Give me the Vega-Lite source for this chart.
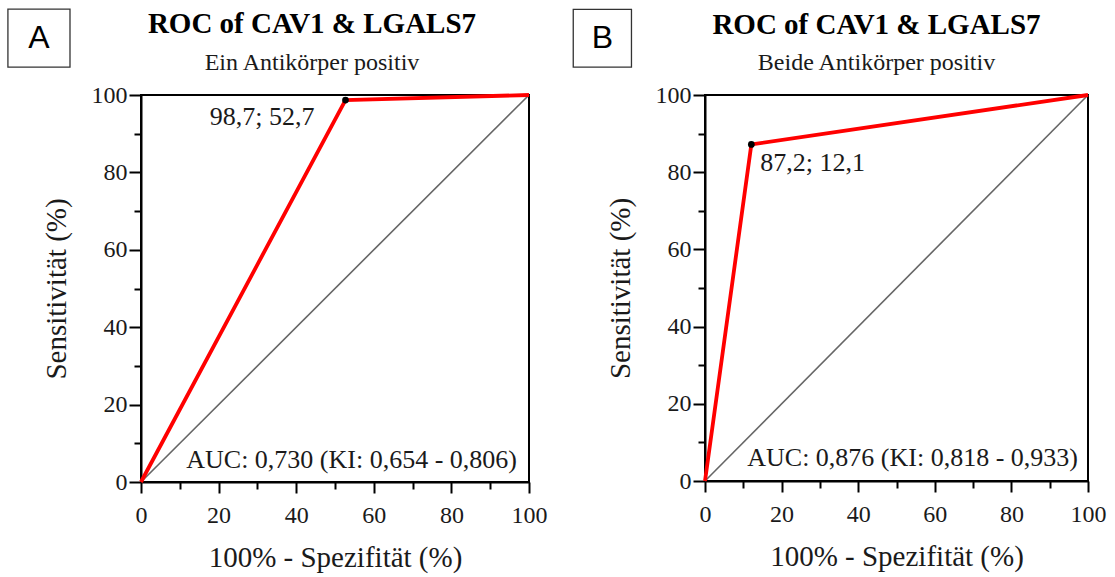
{
  "$schema": "https://vega.github.io/schema/vega-lite/v6.json",
  "background": "white",
  "padding": {"left": 6, "top": 7, "right": 5, "bottom": 5},
  "bounds": "flush",
  "spacing": 176,
  "config": {
    "view": {"stroke": "black", "strokeWidth": 2},
    "axis": {
      "grid": false,
      "domainColor": "black",
      "domainWidth": 2,
      "tickColor": "black",
      "tickWidth": 2,
      "labelFont": "Liberation Serif",
      "labelFontSize": 24,
      "labelColor": "#1a1a1a",
      "titleFont": "Liberation Serif",
      "titleFontSize": 29,
      "titleFontWeight": "normal",
      "titleColor": "#1a1a1a",
      "labelFlush": false,
      "labelOverlap": false,
      "labelBound": false
    },
    "axisX": {"labelPadding": 10, "titlePadding": 16},
    "axisY": {"labelPadding": 2, "titlePadding": 20},
    "title": {
      "font": "Liberation Serif",
      "fontSize": 29,
      "fontWeight": "bold",
      "color": "black",
      "subtitleFont": "Liberation Serif",
      "subtitleFontSize": 24,
      "subtitleColor": "#1a1a1a",
      "subtitlePadding": 11.5,
      "offset": -66.5,
      "anchor": "middle",
      "frame": "group"
    },
    "text": {"font": "Liberation Serif", "fontSize": 26, "color": "#1a1a1a"}
  },
  "datasets": {
    "diag": [{"x": 0, "y": 0}, {"x": 100, "y": 100}],
    "rocA": [{"x": 0, "y": 0}, {"x": 52.7, "y": 98.7}, {"x": 100, "y": 100}],
    "cutA": [{"x": 52.7, "y": 98.7, "label": "98,7; 52,7"}],
    "aucA": [{"x": 100, "y": 0, "label": "AUC: 0,730 (KI: 0,654 - 0,806)"}],
    "boxA": [{"x": -34.3, "x2": -18.3, "y": 122.2, "y2": 107.2}],
    "letterA": [{"x": -26.3, "y": 114.7, "label": "A"}],
    "rocB": [{"x": 0, "y": 0}, {"x": 12.1, "y": 87.2}, {"x": 100, "y": 100}],
    "cutB": [{"x": 12.1, "y": 87.2, "label": "87,2; 12,1"}],
    "aucB": [{"x": 100, "y": 0, "label": "AUC: 0,876 (KI: 0,818 - 0,933)"}],
    "boxB": [{"x": -34.4, "x2": -19.2, "y": 122.2, "y2": 107.2}],
    "letterB": [{"x": -26.8, "y": 114.7, "label": "B"}]
  },
  "hconcat": [
    {
      "width": 388,
      "height": 387,
      "title": {"text": "ROC of CAV1 & LGALS7", "subtitle": "Ein Antikörper positiv", "dx": -23},
      "encoding": {
        "x": {
          "field": "x", "type": "quantitative",
          "scale": {"domain": [0, 100], "nice": false, "zero": false},
          "axis": {
            "title": "100% - Spezifität (%)",
            "values": [0, 10, 20, 30, 40, 50, 60, 70, 80, 90, 100],
            "labelExpr": "datum.value % 20 === 0 ? datum.label : ''",
            "tickSize": {"condition": {"test": "datum.value % 20 === 0", "value": 11}, "value": 7}
          }
        },
        "y": {
          "field": "y", "type": "quantitative",
          "scale": {"domain": [0, 100], "nice": false, "zero": false},
          "axis": {
            "title": "Sensitivität (%)",
            "values": [0, 10, 20, 30, 40, 50, 60, 70, 80, 90, 100],
            "labelExpr": "datum.value % 20 === 0 ? datum.label : ''",
            "tickSize": {"condition": {"test": "datum.value % 20 === 0", "value": 12}, "value": 7}
          }
        }
      },
      "layer": [
        {"data": {"name": "diag"}, "mark": {"type": "line", "color": "#666666", "strokeWidth": 1.6}},
        {"data": {"name": "rocA"}, "mark": {"type": "line", "color": "#ff0000", "strokeWidth": 3.8}},
        {"data": {"name": "cutA"}, "mark": {"type": "circle", "color": "black", "opacity": 1, "size": 45}},
        {"data": {"name": "cutA"}, "mark": {"type": "text", "align": "right", "baseline": "middle", "dx": -31, "dy": 17}, "encoding": {"text": {"field": "label"}}},
        {"data": {"name": "aucA"}, "mark": {"type": "text", "align": "right", "baseline": "middle", "dx": -12, "dy": -22}, "encoding": {"text": {"field": "label"}}},
        {"data": {"name": "boxA"}, "mark": {"type": "rect", "fill": "white", "stroke": "#333333", "strokeWidth": 1.3}, "encoding": {"x2": {"field": "x2"}, "y2": {"field": "y2"}}},
        {"data": {"name": "letterA"}, "mark": {"type": "text", "font": "Liberation Sans", "fontSize": 32, "color": "black", "align": "center", "baseline": "middle"}, "encoding": {"text": {"field": "label"}}}
      ]
    },
    {
      "width": 383,
      "height": 386,
      "title": {"text": "ROC of CAV1 & LGALS7", "subtitle": "Beide Antikörper positiv", "dx": -20},
      "encoding": {
        "x": {
          "field": "x", "type": "quantitative",
          "scale": {"domain": [0, 100], "nice": false, "zero": false},
          "axis": {
            "title": "100% - Spezifität (%)",
            "values": [0, 10, 20, 30, 40, 50, 60, 70, 80, 90, 100],
            "labelExpr": "datum.value % 20 === 0 ? datum.label : ''",
            "tickSize": {"condition": {"test": "datum.value % 20 === 0", "value": 11}, "value": 7}
          }
        },
        "y": {
          "field": "y", "type": "quantitative",
          "scale": {"domain": [0, 100], "nice": false, "zero": false},
          "axis": {
            "title": "Sensitivität (%)",
            "values": [0, 10, 20, 30, 40, 50, 60, 70, 80, 90, 100],
            "labelExpr": "datum.value % 20 === 0 ? datum.label : ''",
            "tickSize": {"condition": {"test": "datum.value % 20 === 0", "value": 12}, "value": 7}
          }
        }
      },
      "layer": [
        {"data": {"name": "diag"}, "mark": {"type": "line", "color": "#666666", "strokeWidth": 1.6}},
        {"data": {"name": "rocB"}, "mark": {"type": "line", "color": "#ff0000", "strokeWidth": 3.8}},
        {"data": {"name": "cutB"}, "mark": {"type": "circle", "color": "black", "opacity": 1, "size": 45}},
        {"data": {"name": "cutB"}, "mark": {"type": "text", "align": "left", "baseline": "middle", "dx": 9, "dy": 19}, "encoding": {"text": {"field": "label"}}},
        {"data": {"name": "aucB"}, "mark": {"type": "text", "align": "right", "baseline": "middle", "dx": -10, "dy": -23}, "encoding": {"text": {"field": "label"}}},
        {"data": {"name": "boxB"}, "mark": {"type": "rect", "fill": "white", "stroke": "#333333", "strokeWidth": 1.3}, "encoding": {"x2": {"field": "x2"}, "y2": {"field": "y2"}}},
        {"data": {"name": "letterB"}, "mark": {"type": "text", "font": "Liberation Sans", "fontSize": 32, "color": "black", "align": "center", "baseline": "middle"}, "encoding": {"text": {"field": "label"}}}
      ]
    }
  ]
}
